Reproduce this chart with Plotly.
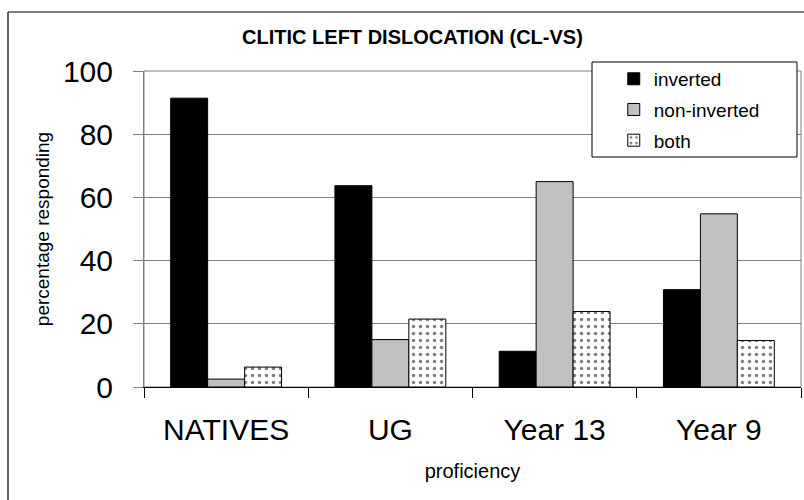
import plotly.graph_objects as go

categories = ["NATIVES", "UG", "Year 13", "Year 9"]
inverted = [91.4, 63.7, 11.3, 30.8]
non_inverted = [2.5, 15.0, 65.0, 54.8]
both = [6.3, 21.5, 23.9, 14.7]

font = "Arial, Liberation Sans, sans-serif"

fig = go.Figure()

fig.add_trace(
    go.Bar(
        x=categories,
        y=inverted,
        name="inverted",
        legendgroup="a",
        marker=dict(color="black", line=dict(color="black", width=1))
    )
)

fig.add_trace(
    go.Bar(
        x=categories,
        y=non_inverted,
        name="non-inverted",
        legendgroup="b",
        marker=dict(color="#c0c0c0", line=dict(color="black", width=1))
    )
)

fig.add_trace(
    go.Bar(
        x=categories,
        y=both,
        name="both",
        legendgroup="c",
        marker=dict(
            color="white",
            line=dict(color="black", width=1),
            pattern=dict(shape=".", fgcolor="black", bgcolor="white",
                         size=7, solidity=0.2)
        )
    )
)

# plot area border (grey)
fig.add_shape(type="rect", xref="paper", yref="paper",
              x0=0, x1=1, y0=0, y1=1,
              line=dict(color="#808080", width=1), layer="below")

# outer chart frame (only top and left edges are inside the picture)
fig.add_shape(type="line", xref="paper", yref="paper",
              x0=-0.207, x1=1.0046, y0=1.1867, y1=1.1867,
              line=dict(color="black", width=1.2))
fig.add_shape(type="line", xref="paper", yref="paper",
              x0=-0.207, x1=-0.207, y0=-0.5, y1=1.1867,
              line=dict(color="black", width=1.2))

# legend box
fig.add_shape(type="rect", xref="paper", yref="paper",
              x0=0.6819, x1=0.9939, y0=0.7278, y1=1.0285,
              fillcolor="white", line=dict(color="black", width=1),
              layer="above")

fig.update_layout(
    width=804,
    height=500,
    margin=dict(l=144, r=3, t=71, b=113, autoexpand=False),
    paper_bgcolor="white",
    plot_bgcolor="white",
    barmode="group",
    bargap=0.325,
    bargroupgap=0,
    font=dict(family=font, color="black"),
    title=dict(
        text="<b>CLITIC LEFT DISLOCATION (CL-VS)</b>",
        x=0.513, y=0.926, xanchor="center", yanchor="middle",
        font=dict(size=20, family=font, color="black")
    ),
    legend=dict(
        x=0.715, y=1.035, xanchor="left", yanchor="top",
        bgcolor="rgba(0,0,0,0)", borderwidth=0,
        tracegroupgap=3,
        font=dict(size=19, family=font, color="black")
    ),
    xaxis=dict(
        title=dict(text="proficiency", font=dict(size=20), standoff=18),
        tickfont=dict(size=30),
        ticks="outside", ticklen=10, tickcolor="black",
        tickson="boundaries", ticklabelstandoff=16,
        showline=True, linecolor="black", linewidth=1,
        showgrid=False
    ),
    yaxis=dict(
        title=dict(text="percentage responding", font=dict(size=19), standoff=8),
        tickfont=dict(size=30),
        range=[0, 100], tickvals=[0, 20, 40, 60, 80, 100],
        ticks="outside", ticklen=10, tickcolor="#808080",
        ticklabelstandoff=14,
        showline=True, linecolor="#808080", linewidth=1,
        showgrid=True, gridcolor="#808080", gridwidth=1,
        zeroline=False
    )
)

fig.write_html(
    "out.html",
    config={"displayModeBar": False},
    post_script="document.body.style.margin='0';document.body.style.overflow='hidden';"
)
